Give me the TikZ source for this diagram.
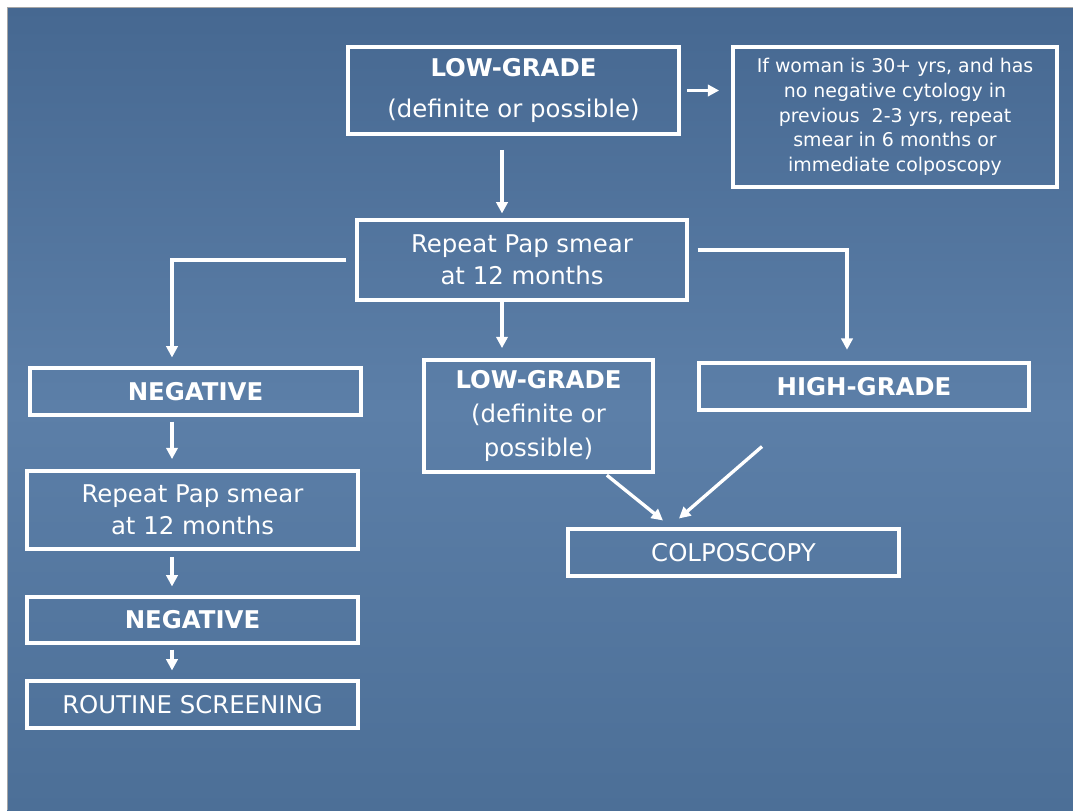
\documentclass[tikz,border=0pt]{standalone}
\usepackage{fontspec}
\setmainfont{DejaVu Sans}
\usepackage{xcolor}
\usetikzlibrary{arrows.meta,calc}
\definecolor{slidetop}{RGB}{70,104,145}
\definecolor{slidemid}{RGB}{92,127,168}
\definecolor{slidebot}{RGB}{76,111,151}

\begin{document}
\begin{tikzpicture}[x=0.75pt,y=-0.75pt,line join=miter,
    box/.style={draw=white,line width=2.8pt,text=white,align=center,inner sep=0pt,
      font=\fontsize{18.3}{24}\selectfont},
    smallbox/.style={box,font=\fontsize{14.2}{18.5}\selectfont},
    arr/.style={draw=white,line width=2.5pt,-{Triangle[length=8.5pt,width=8.5pt]}}]
  \useasboundingbox (0,0) rectangle (1073,810);
  % slide background
  \shade[top color=slidetop,bottom color=slidebot,middle color=slidemid]
    (7,7) rectangle (1073,810);
  \draw[gray!70,line width=0.6pt] (7,810) -- (7,7) -- (1073,7);
  % columns of the connectors
  \coordinate (colL) at (172.000,0.000);
  \coordinate (colM) at (502.000,0.000);
  \coordinate (colR) at (847.000,0.000);
  % boxes
  \node[box,minimum width=248.25pt,minimum height=65.25pt] (lgtop) at (513.500,90.500)
    {\textbf{LOW-GRADE}\\[7pt](definite or possible)};
  \node[smallbox,minimum width=243.00pt,minimum height=105.00pt] (info) at (895.000,117.000)
    {If woman is 30+ yrs, and has\\no negative cytology in\\previous~ 2-3 yrs, repeat\\smear in 6 months or\\immediate colposcopy};
  \node[box,minimum width=247.50pt,minimum height=60.00pt] (rep1) at (522.000,260.000)
    {Repeat Pap smear\\at 12 months};
  \node[box,minimum width=248.25pt,minimum height=35.25pt] (neg1) at (195.500,391.500)
    {\textbf{NEGATIVE}};
  \node[box,minimum width=171.75pt,minimum height=84.00pt,font=\fontsize{18.3}{25.5}\selectfont] (lgmid) at (538.500,416.000)
    {\textbf{LOW-GRADE}\\(definite or\\possible)};
  \node[box,minimum width=247.50pt,minimum height=35.25pt] (high) at (864.000,386.500)
    {\textbf{HIGH-GRADE}};
  \node[box,minimum width=248.25pt,minimum height=58.50pt] (rep2) at (192.500,510.000)
    {Repeat Pap smear\\at 12 months};
  \node[box,minimum width=248.25pt,minimum height=34.50pt] (neg2) at (192.500,620.000)
    {\textbf{NEGATIVE}};
  \node[box,minimum width=248.25pt,minimum height=35.25pt] (routine) at (192.500,704.500)
    {ROUTINE SCREENING};
  \node[box,minimum width=248.25pt,minimum height=35.25pt] (colpo) at (733.500,552.500)
    {COLPOSCOPY};
  % connectors
  \draw[arr,shorten <=4.5pt,shorten >=9pt] (lgtop.east) -- (lgtop.east -| info.west);
  \draw[arr,shorten <=10.5pt,shorten >=3.5pt] (colM |- lgtop.south) -- (colM |- rep1.north);
  \draw[arr,shorten <=6.5pt,shorten >=6.5pt] (rep1.west) -| (colL |- neg1.north);
  \draw[arr,shorten <=0pt,shorten >=7.5pt] (colM |- rep1.south) -- (colM |- lgmid.north);
  \draw[arr,shorten <=6.5pt,shorten >=8.5pt] ([yshift=7.5pt]rep1.east) -| (colR |- high.north);
  \draw[arr,shorten <=3.5pt,shorten >=7.5pt] (colL |- neg1.south) -- (colL |- rep2.north);
  \draw[arr,shorten <=4.5pt,shorten >=6.5pt] (colL |- rep2.south) -- (colL |- neg2.north);
  \draw[arr,shorten <=3.5pt,shorten >=6.5pt] (colL |- neg2.south) -- (colL |- routine.north);
  \draw[arr] ([xshift=-36pt,yshift=-1pt]lgmid.south east) -- ([xshift=-52.9pt,yshift=5pt]colpo.north);
  \draw[arr] ([xshift=-76.5pt,yshift=-26pt]high.south) -- ([xshift=-40.9pt,yshift=6.5pt]colpo.north);
\end{tikzpicture}
\end{document}
